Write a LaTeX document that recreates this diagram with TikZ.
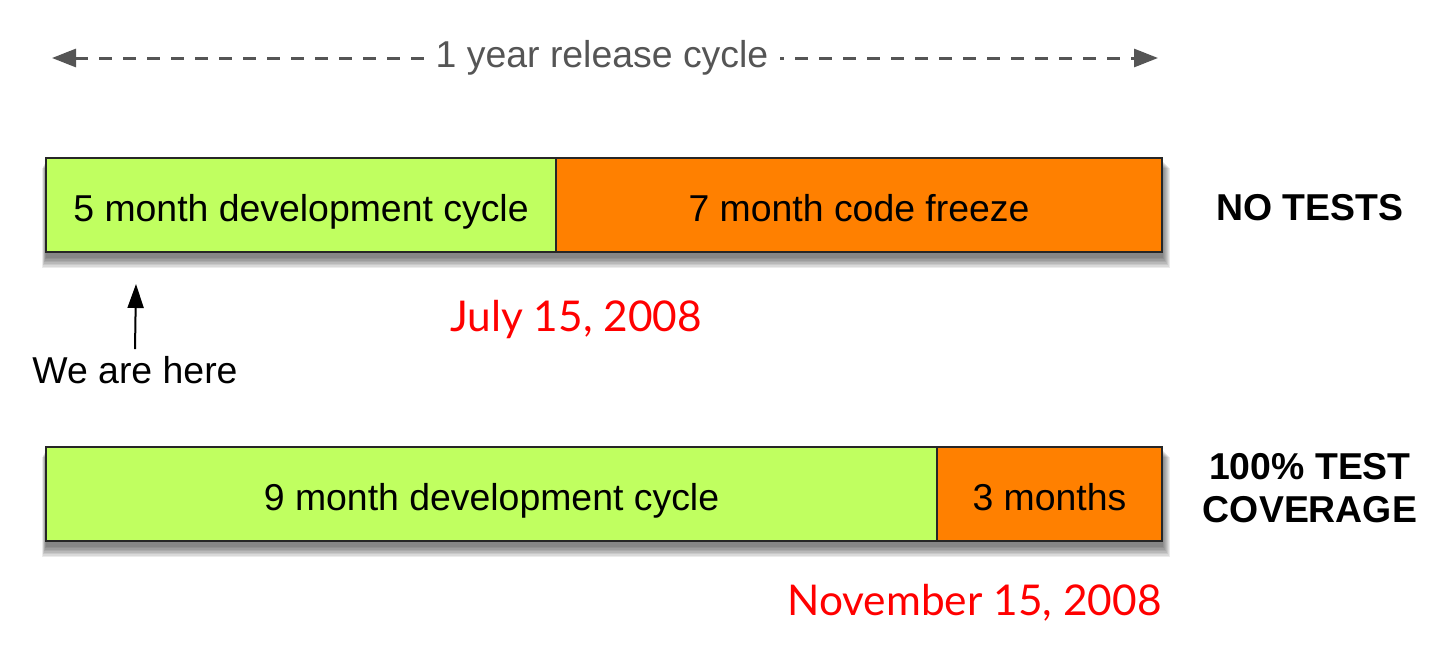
\documentclass[tikz,border=0pt]{standalone}
\usepackage{fontspec}
\setmainfont{Liberation Sans}
\newfontfamily\datefont{Lato}
\usetikzlibrary{positioning,arrows.meta}

\definecolor{devgreen}{RGB}{192,255,96}
\definecolor{freezeorange}{RGB}{255,128,0}
\definecolor{dategray}{RGB}{85,85,85}

\begin{document}
\begin{tikzpicture}[x=0.5pt,y=0.5pt,>={Triangle[length=12pt,width=8pt]},
  txt/.style={font=\fontsize{18.7}{22}\selectfont},
  segment/.style={txt,draw=black!85,line width=1.4pt,minimum height=47pt,
    text height=18pt,text depth=1.6pt,
    inner sep=0pt,outer sep=0pt,anchor=west},
  devbox/.style={segment,fill=devgreen},
  freezebox/.style={segment,fill=freezeorange},
  datelabel/.style={text=red,inner xsep=0pt,font=\datefont\fontsize{21.2}{24}\selectfont},
  verdict/.style={txt,font=\fontsize{18.7}{21.5}\selectfont\bfseries,align=center}]
\useasboundingbox (0,0) rectangle (1440,-659);

% soft shadows under the two bars
\foreach \s in {1,...,8} {
  \fill[black,opacity=0.08] (46-\s/2,-160-\s) rectangle (1162+\s,-252-4-1.5*\s);
  \fill[black,opacity=0.08] (46-\s/2,-449-\s) rectangle (1162+\s,-541-4-1.5*\s);
}

% release cycle
\coordinate (cyc-l) at (52,-58);
\coordinate (cyc-r) at (1158,-58);
\draw[dategray,line width=1.5pt,dash pattern=on 6.5pt off 5.5pt,
  {Triangle[length=12pt,width=9pt]}-{Triangle[length=12pt,width=9pt]}] (cyc-l) -- (cyc-r);
\node[txt,text=dategray,fill=white,inner xsep=6pt] (cyc) at (602,-58) {1 year release cycle};

% no tests
\node[devbox,minimum width=255pt] (dev1) at (46,-205) {5 month development cycle};
\node[freezebox,minimum width=303pt,right=0pt of dev1] (freeze1) {7 month code freeze};
\node[verdict] (notests) at (1310,-208) {NO TESTS};
\node[datelabel] (july) at (576,-320) {July 15, 2008};

\node[txt] (here) at (135,-370) {We are here};
\coordinate (now) at (136,-284);
\draw[->,line width=1pt] (here.north) -- (now);

% full coverage
\node[devbox,minimum width=445.5pt] (dev2) at (46,-494) {9 month development cycle};
\node[freezebox,minimum width=112.5pt,right=0pt of dev2] (freeze2) {3 months};
\node[verdict] (coverage) at (1310,-488) {100\% TEST\\COVERAGE};
\node[datelabel,anchor=east] (nov) at (1162,-603) {November 15, 2008};
\end{tikzpicture}
\end{document}
